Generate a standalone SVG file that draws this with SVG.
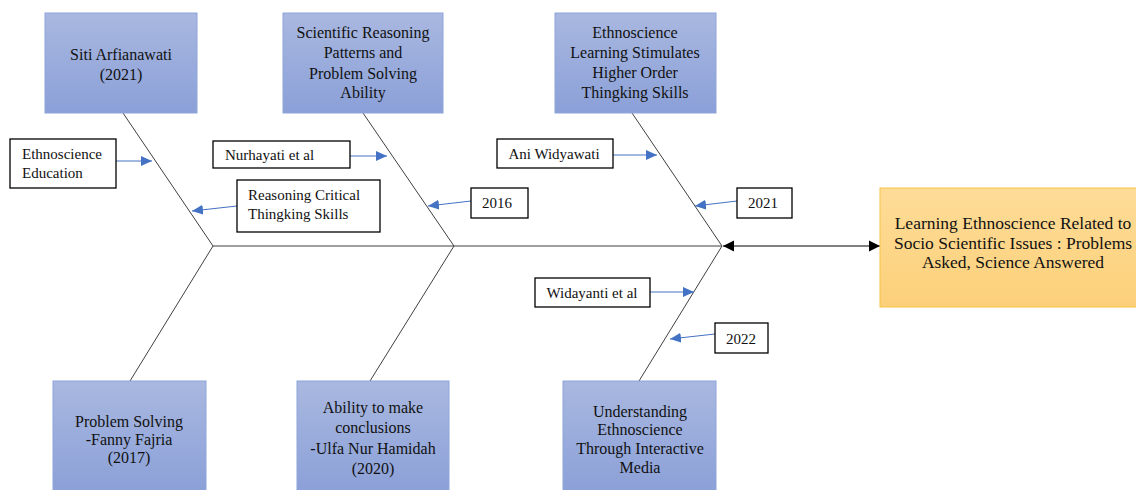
<svg xmlns="http://www.w3.org/2000/svg" width="1136" height="490" viewBox="0 0 1136 490">
  <defs>
    <linearGradient id="blueGrad" x1="0" y1="0" x2="0" y2="1">
      <stop offset="0" stop-color="#a9b8e0"/>
      <stop offset="1" stop-color="#8ba0d8"/>
    </linearGradient>
    <linearGradient id="orangeGrad" x1="0" y1="0" x2="0" y2="1">
      <stop offset="0" stop-color="#fedc98"/>
      <stop offset="1" stop-color="#fcd07a"/>
    </linearGradient>
    <marker id="blueArrow" markerUnits="userSpaceOnUse" markerWidth="12" markerHeight="10" refX="11" refY="5" orient="auto">
      <path d="M0,0 L11,5 L0,10 z" fill="#4472c4"/>
    </marker>
    <marker id="blackArrow" markerUnits="userSpaceOnUse" markerWidth="12" markerHeight="12" refX="11" refY="6" orient="auto-start-reverse">
      <path d="M0,0.5 L11,6 L0,11.5 z" fill="#000"/>
    </marker>
  </defs>
  <style>
    .blue { fill: url(#blueGrad); stroke: #8ea4da; stroke-width: 1; }
    .orange { fill: url(#orangeGrad); stroke: #f6c445; stroke-width: 1; }
    .white { fill: #ffffff; stroke: #000000; stroke-width: 1.3; }
    .t { font-family: "Liberation Serif", "Times New Roman", serif; font-size: 15px; fill: #111; }
    .b { font-size: 16px; }
    .h { font-size: 17.5px; }
    .c { text-anchor: middle; }
    .bone { stroke: #404040; stroke-width: 1; fill: none; }
    .barrow { stroke: #4472c4; stroke-width: 1; fill: none; marker-end: url(#blueArrow); }
    .spine { stroke: #000; stroke-width: 1; fill: none; marker-start: url(#blackArrow); marker-end: url(#blackArrow); }
  </style>

  <g id="connectors">
    <line class="bone" x1="213" y1="246" x2="722" y2="246"/>
    <line class="bone" x1="123" y1="113" x2="213" y2="246"/>
    <line class="bone" x1="363" y1="113" x2="454" y2="246"/>
    <line class="bone" x1="632" y1="113" x2="722" y2="246"/>
    <line class="bone" x1="213" y1="246" x2="130" y2="381"/>
    <line class="bone" x1="454" y1="246" x2="370" y2="381"/>
    <line class="bone" x1="722" y1="246" x2="639" y2="381"/>
    <line class="spine" x1="723" y1="246" x2="880" y2="246"/>
    <line class="barrow" x1="116" y1="161" x2="152" y2="161"/>
    <line class="barrow" x1="237" y1="206" x2="192" y2="211"/>
    <line class="barrow" x1="350" y1="156" x2="387" y2="156"/>
    <line class="barrow" x1="471" y1="201" x2="428" y2="206"/>
    <line class="barrow" x1="613" y1="155" x2="657" y2="155"/>
    <line class="barrow" x1="737" y1="201" x2="695" y2="206"/>
    <line class="barrow" x1="650" y1="292" x2="694" y2="292"/>
    <line class="barrow" x1="715" y1="334" x2="670" y2="339"/>
  </g>

  <g id="node-siti">
    <rect class="blue" x="45" y="13" width="152" height="100"/>
    <text class="t b c" x="121" y="60">Siti Arfianawati</text>
    <text class="t b c" x="121" y="80">(2021)</text>
  </g>
  <g id="node-scientific">
    <rect class="blue" x="283" y="13" width="160" height="100"/>
    <text class="t b c" x="363" y="38">Scientific Reasoning</text>
    <text class="t b c" x="363" y="58">Patterns and</text>
    <text class="t b c" x="363" y="79">Problem Solving</text>
    <text class="t b c" x="363" y="98">Ability</text>
  </g>
  <g id="node-ethno-hots">
    <rect class="blue" x="555" y="13" width="161" height="100"/>
    <text class="t b c" x="635" y="38">Ethnoscience</text>
    <text class="t b c" x="635" y="58">Learning Stimulates</text>
    <text class="t b c" x="635" y="78">Higher Order</text>
    <text class="t b c" x="635" y="98">Thingking Skills</text>
  </g>
  <g id="node-problem-solving">
    <rect class="blue" x="53" y="381" width="153" height="112"/>
    <text class="t b c" x="129" y="427">Problem Solving</text>
    <text class="t b c" x="129" y="445">-Fanny Fajria</text>
    <text class="t b c" x="129" y="463">(2017)</text>
  </g>
  <g id="node-conclusions">
    <rect class="blue" x="297" y="381" width="152" height="112"/>
    <text class="t b c" x="373" y="413">Ability to make</text>
    <text class="t b c" x="373" y="433">conclusions</text>
    <text class="t b c" x="373" y="454">-Ulfa Nur Hamidah</text>
    <text class="t b c" x="373" y="474">(2020)</text>
  </g>
  <g id="node-interactive">
    <rect class="blue" x="563" y="381" width="153" height="112"/>
    <text class="t b c" x="640" y="417">Understanding</text>
    <text class="t b c" x="640" y="435">Ethnoscience</text>
    <text class="t b c" x="640" y="454">Through Interactive</text>
    <text class="t b c" x="640" y="473">Media</text>
  </g>
  <g id="node-head">
    <rect class="orange" x="880" y="188" width="258" height="119"/>
    <text class="t h c" x="1013" y="229">Learning Ethnoscience Related to</text>
    <text class="t h c" x="1013" y="249">Socio Scientific Issues : Problems</text>
    <text class="t h c" x="1013" y="268">Asked, Science Answered</text>
  </g>

  <g id="node-ethno-education">
    <rect class="white" x="10" y="139" width="106" height="49"/>
    <text class="t" x="22" y="159">Ethnoscience</text>
    <text class="t" x="22" y="178">Education</text>
  </g>
  <g id="node-reasoning">
    <rect class="white" x="237" y="180" width="143" height="52"/>
    <text class="t" x="248" y="200">Reasoning Critical</text>
    <text class="t" x="248" y="219">Thingking Skills</text>
  </g>
  <g id="node-nurhayati">
    <rect class="white" x="213" y="141" width="137" height="27"/>
    <text class="t" x="225" y="160">Nurhayati et al</text>
  </g>
  <g id="node-2016">
    <rect class="white" x="471" y="188" width="57" height="30"/>
    <text class="t c" x="497" y="208">2016</text>
  </g>
  <g id="node-ani">
    <rect class="white" x="497" y="139" width="116" height="29"/>
    <text class="t c" x="554" y="159">Ani Widyawati</text>
  </g>
  <g id="node-2021">
    <rect class="white" x="737" y="188" width="55" height="30"/>
    <text class="t c" x="763" y="208">2021</text>
  </g>
  <g id="node-widayanti">
    <rect class="white" x="535" y="278" width="115" height="29"/>
    <text class="t c" x="592" y="298">Widayanti et al</text>
  </g>
  <g id="node-2022">
    <rect class="white" x="715" y="323" width="53" height="30"/>
    <text class="t c" x="741" y="344">2022</text>
  </g>
</svg>
